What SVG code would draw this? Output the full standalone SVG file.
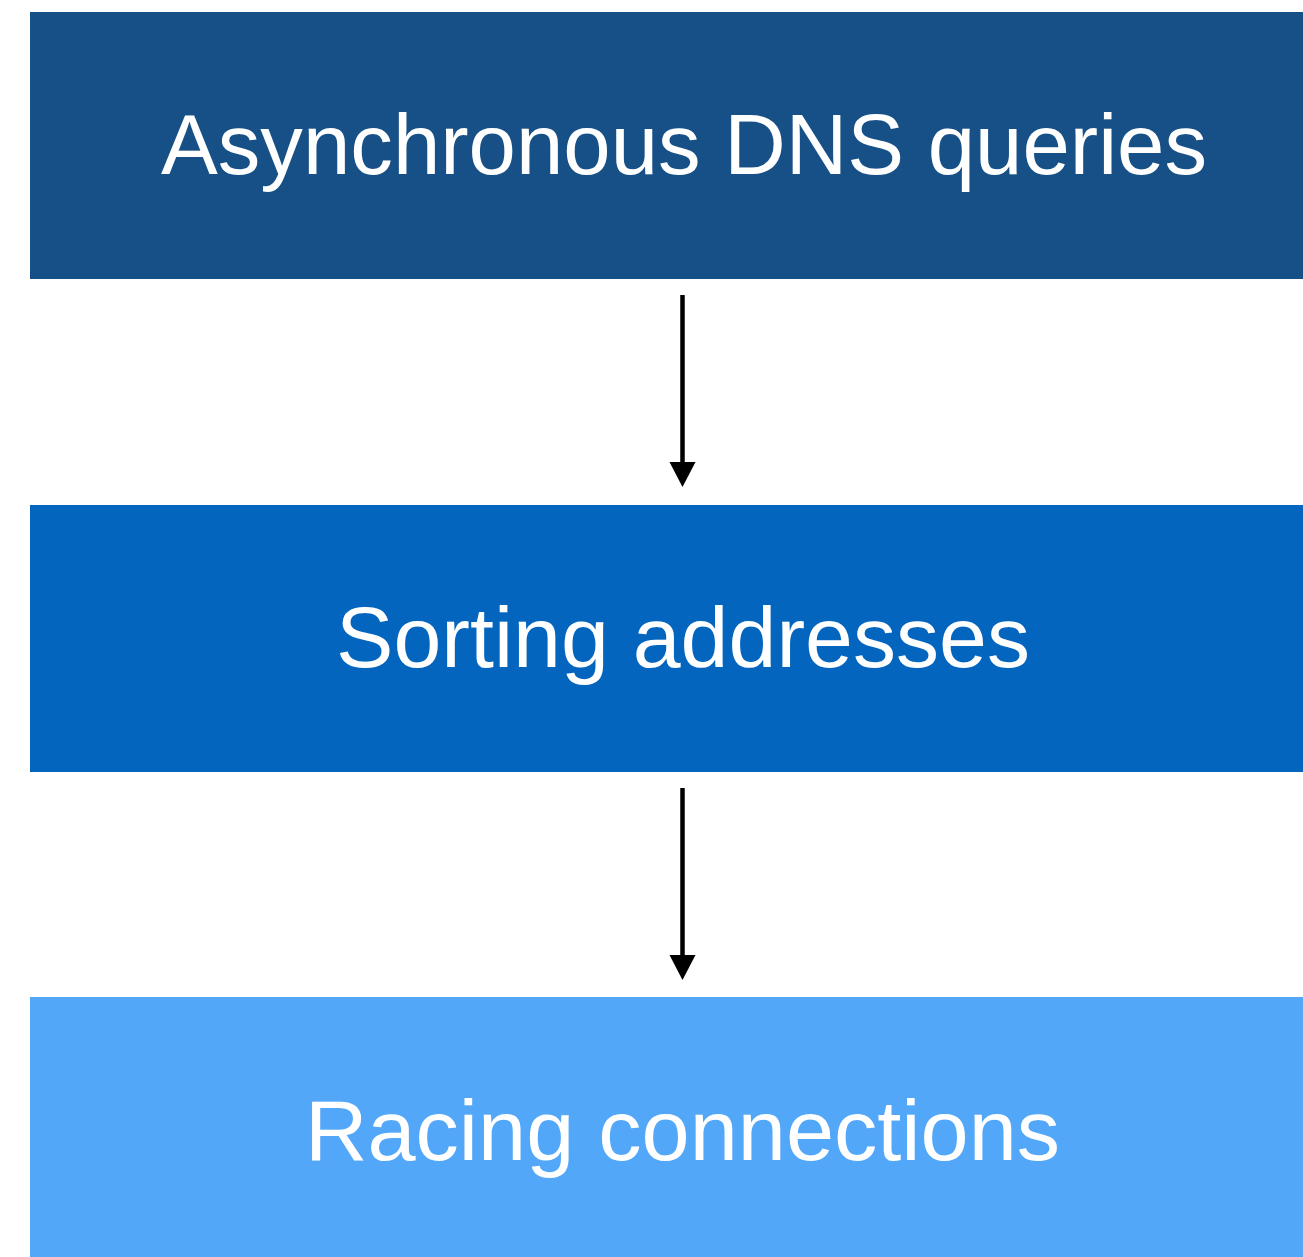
<svg xmlns="http://www.w3.org/2000/svg" width="1303" height="1257" viewBox="0 0 1303 1257">
<style>
.lbl{font-family:"Liberation Sans",Arial,Helvetica,sans-serif;font-size:85px;fill:#ffffff;text-anchor:middle}
.conn{stroke:#000000;stroke-width:4.5;fill:none}
.head{fill:#000000}
</style>
<rect width="1303" height="1257" fill="#ffffff"/>
<g id="node-dns">
<rect x="30" y="12" width="1273" height="267" fill="#175087"/>
<text class="lbl" x="684" y="174" textLength="1046" lengthAdjust="spacingAndGlyphs">Asynchronous DNS queries</text>
</g>
<g id="node-sort">
<rect x="30" y="505" width="1273" height="267" fill="#0465BF"/>
<text class="lbl" x="683" y="667" textLength="694" lengthAdjust="spacingAndGlyphs">Sorting addresses</text>
</g>
<g id="node-race">
<rect x="30" y="997" width="1273" height="260" fill="#52A7F9"/>
<text class="lbl" x="682.5" y="1160" textLength="755" lengthAdjust="spacingAndGlyphs">Racing connections</text>
</g>
<g id="connectors">
<line class="conn" x1="682.5" y1="295" x2="682.5" y2="464"/>
<polygon class="head" points="669.5,462 695.5,462 682.5,487"/>
<line class="conn" x1="682.5" y1="788" x2="682.5" y2="957"/>
<polygon class="head" points="669.5,955 695.5,955 682.5,980"/>
</g>
</svg>
